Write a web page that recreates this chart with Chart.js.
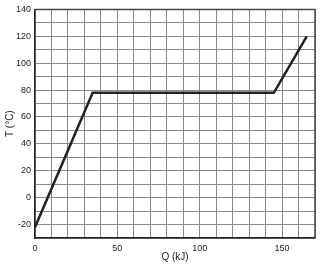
<!DOCTYPE html>
<html>
<head>
<meta charset="utf-8">
<script src="https://cdn.jsdelivr.net/npm/chart.js@4"></script>
<style>
  html, body { margin: 0; padding: 0; background: #fff; }
  #wrap { width: 321px; height: 267px; }
</style>
</head>
<body>
<div id="wrap"><canvas id="c"></canvas></div>
<script>
// heating curve: Q (kJ) vs T (°C)
const qValues = [0, 35, 145, 165];
const tValues = [-22, 78, 78, 120];
const xLabels = [0, 50, 100, 150];
const yLabels = [-20, 0, 20, 40, 60, 80, 100, 120, 140];

const points = qValues.map((q, i) => ({x: q, y: tValues[i]}));

const font = {family: 'Liberation Sans, Arial, sans-serif', size: 9};

new Chart(document.getElementById('c'), {
    type: 'line',
    data: {
        datasets: [{
            data: points,
            borderColor: '#222',
            borderWidth: 2.5,
            pointRadius: 0,
            tension: 0,
            fill: false,
        }]
    },
    options: {
        responsive: true,
        maintainAspectRatio: false,
        animation: false,
        layout: {padding: {top: 7, right: 6, left: 0, bottom: 0}},
        plugins: {legend: {display: false}, tooltip: {enabled: false}},
        scales: {
            x: {
                type: 'linear',
                min: 0, max: 170,
                ticks: {
                    stepSize: 10, autoSkip: false, padding: 5,
                    color: '#222', font: font, maxRotation: 0,
                    callback: (v) => xLabels.includes(v) ? String(v) : '',
                },
                grid: {color: '#8a8a8a', lineWidth: 1, drawTicks: false},
                border: {color: '#222', width: 1.5},
                title: {display: true, text: 'Q (kJ)', color: '#222', font: {...font, size: 10}, padding: {top: 4}},
                afterFit: (s) => { s.height = 29; },
            },
            y: {
                min: -30, max: 140,
                ticks: {
                    stepSize: 10, autoSkip: false, padding: 4,
                    color: '#222', font: font,
                    callback: (v) => yLabels.includes(v) ? String(v) : '',
                },
                grid: {color: '#8a8a8a', lineWidth: 1, drawTicks: false},
                border: {color: '#222', width: 1.5},
                title: {display: true, text: 'T (°C)', color: '#222', font: {...font, size: 10}, padding: {top: 4, bottom: 0}},
                afterFit: (s) => { s.width = 35; },
            }
        }
    },
    plugins: [{
        id: 'frame',
        afterDraw(chart) {
            const {ctx, chartArea: a} = chart;
            ctx.save();
            ctx.strokeStyle = '#444';
            ctx.lineWidth = 1.5;
            ctx.beginPath();
            ctx.moveTo(a.left, a.top);
            ctx.lineTo(a.right, a.top);
            ctx.lineTo(a.right, a.bottom);
            ctx.stroke();
            ctx.restore();
        }
    }]
});
</script>
</body>
</html>
